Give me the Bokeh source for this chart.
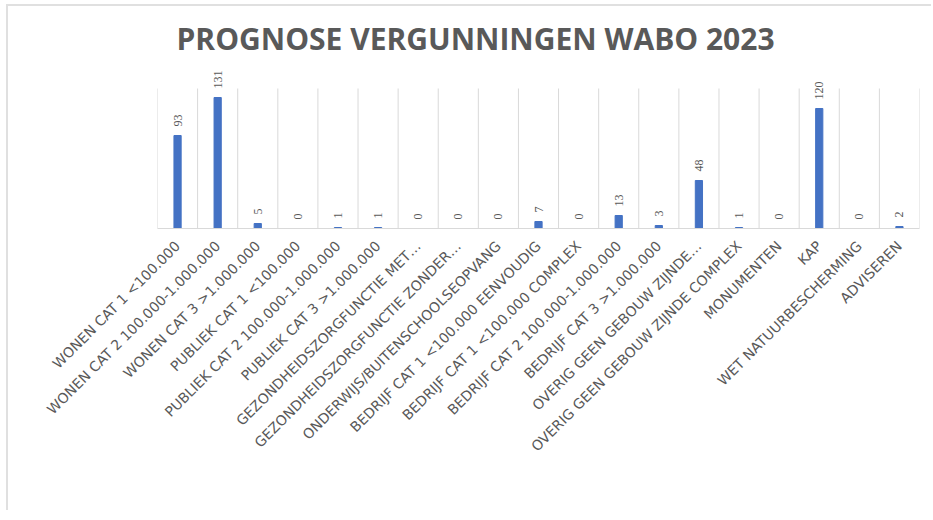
from math import pi
from bokeh.plotting import figure
from bokeh.models import Range1d, FixedTicker, Title, ColumnDataSource, LabelSet
from bokeh.embed import file_html
from bokeh.resources import INLINE

title_text = "PROGNOSE VERGUNNINGEN WABO 2023"
categories = [
    "WONEN CAT 1 <100.000",
    "WONEN CAT 2 100.000-1.000.000",
    "WONEN CAT 3 >1.000.000",
    "PUBLIEK CAT 1 <100.000",
    "PUBLIEK CAT 2 100.000-1.000.000",
    "PUBLIEK CAT 3 >1.000.000",
    "GEZONDHEIDSZORGFUNCTIE MET…",
    "GEZONDHEIDSZORGFUNCTIE ZONDER…",
    "ONDERWIJS/BUITENSCHOOLSEOPVANG",
    "BEDRIJF CAT 1 <100.000 EENVOUDIG",
    "BEDRIJF CAT 1 <100.000 COMPLEX",
    "BEDRIJF CAT 2 100.000-1.000.000",
    "BEDRIJF CAT 3 >1.000.000",
    "OVERIG GEEN GEBOUW ZIJNDE…",
    "OVERIG GEEN GEBOUW ZIJNDE COMPLEX",
    "MONUMENTEN",
    "KAP",
    "WET NATUURBESCHERMING",
    "ADVISEREN",
]
values = [93, 131, 5, 0, 1, 1, 0, 0, 0, 7, 0, 13, 3, 48, 1, 0, 120, 0, 2]
axis_max = 140      # top of the value axis (gridlines end here)
view_max = 165      # extra headroom so the data labels above the axis max stay visible

n = len(categories)
xs = list(range(n))
src = ColumnDataSource(dict(x=xs, v=values, lbl=[str(v) for v in values]))
bounds = [i - 0.5 for i in range(n + 1)]
grid_src = ColumnDataSource(dict(x=bounds, y0=[0] * len(bounds),
                                 y1=[axis_max] * len(bounds)))

p = figure(width=925, height=506, output_backend="svg", toolbar_location=None,
           x_range=Range1d(-0.5, n - 0.5), y_range=Range1d(0, view_max),
           min_border_left=149, min_border_right=14, min_border_top=57,
           min_border_bottom=284)
p.styles = {"border-left": "2px solid #e0e0e0", "border-top": "2px solid #e0e0e0",
            "margin-left": "6px", "margin-top": "4px"}

t = Title(text=title_text, text_font="Open Sans", text_font_size="30px",
          text_font_style="bold", text_color="#595959", align="left", offset=19)
p.add_layout(t, "above")

p.outline_line_color = None
p.background_fill_color = "white"
p.border_fill_color = "white"
p.xgrid.grid_line_color = None
p.ygrid.grid_line_color = None

p.segment(x0="x", x1="x", y0="y0", y1="y1", source=grid_src,
          line_color="#d9d9d9", line_width=1)

p.vbar(x="x", top="v", width=0.18, bottom=0, source=src, color="#4472C4")
labels = LabelSet(x="x", y="v", text="lbl", source=src, angle=pi / 2,
                  text_align="left", text_baseline="middle", y_offset=9,
                  text_font="Liberation Sans", text_font_size="12px",
                  text_color="#595959")
p.add_layout(labels)

p.yaxis.visible = False

ax = p.xaxis[0]
ax.ticker = FixedTicker(ticks=xs)
ax.major_label_overrides = {i: c for i, c in enumerate(categories)}
ax.major_label_orientation = pi / 4
ax.major_label_text_font = "DejaVu Sans"
ax.major_label_text_font_size = "14px"
ax.major_label_text_color = "#595959"
ax.major_tick_line_color = None
ax.minor_tick_line_color = None
ax.axis_line_color = "#d9d9d9"
ax.major_label_standoff = 9

open("out.html", "w").write(file_html(p, INLINE))
